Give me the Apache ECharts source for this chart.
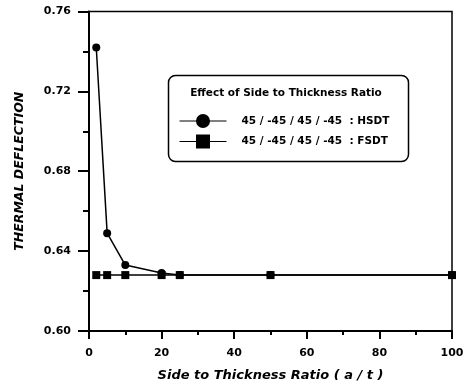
<!DOCTYPE html>
<html>
<head>
<meta charset="utf-8">
<script src="https://cdn.jsdelivr.net/npm/echarts@6/dist/echarts.min.js"></script>
<style>
html,body{margin:0;padding:0;background:#fff;}
#c{width:470px;height:386px;}
</style>
</head>
<body>
<div id="c"></div>
<script>
const xValues = [2, 5, 10, 20, 25, 50, 100];
const hsdt = [0.742, 0.649, 0.633, 0.629, 0.628, 0.628, 0.628];
const fsdt = [0.628, 0.628, 0.628, 0.628, 0.628, 0.628, 0.628];
const seriesNames = ['45 / -45 / 45 / -45  : HSDT', '45 / -45 / 45 / -45  : FSDT'];
const legendTitle = 'Effect of Side to Thickness Ratio';
const xTitle = 'Side to Thickness Ratio ( a / t )';
const yTitle = 'THERMAL DEFLECTION';

const FONT = '"DejaVu Sans", sans-serif';
const chart = echarts.init(document.getElementById('c'), null, {renderer: 'canvas'});

const pairs = (ys) => xValues.map((x, i) => [x, ys[i]]);

chart.setOption({
  animation: false,
  backgroundColor: '#fff',
  grid: {
    left: 89, right: 18, top: 11.5, bottom: 55,
    outerBoundsMode: 'none', containLabel: false,
    show: true, borderColor: '#000', borderWidth: 1.5, backgroundColor: 'transparent'
  },
  xAxis: {
    type: 'value', min: 0, max: 100, interval: 20,
    name: xTitle, nameLocation: 'middle', nameGap: 38,
    nameTextStyle: {fontFamily: FONT, fontSize: 13, fontWeight: 'bold', fontStyle: 'italic', color: '#000'},
    axisLine: {show: true, lineStyle: {color: '#000', width: 2}},
    axisTick: {show: true, inside: false, length: 8, lineStyle: {color: '#000', width: 2}},
    minorTick: {show: true, splitNumber: 2, length: 4, lineStyle: {color: '#000', width: 2}},
    splitLine: {show: false},
    axisLabel: {margin: 17, fontFamily: FONT, fontSize: 11, fontWeight: 'bold', color: '#000'}
  },
  yAxis: {
    type: 'value', min: 0.60, max: 0.76, interval: 0.04,
    name: yTitle, nameLocation: 'middle', nameGap: 63, nameRotate: 90,
    nameTextStyle: {fontFamily: FONT, fontSize: 12.5, fontWeight: 'bold', fontStyle: 'italic', color: '#000'},
    axisLine: {show: true, lineStyle: {color: '#000', width: 2}},
    axisTick: {show: true, inside: false, length: 11, lineStyle: {color: '#000', width: 2}},
    minorTick: {show: true, splitNumber: 2, length: 6, lineStyle: {color: '#000', width: 2}},
    splitLine: {show: false},
    axisLabel: {margin: 18, fontFamily: FONT, fontSize: 11, fontWeight: 'bold', color: '#000',
      formatter: (v) => v.toFixed(2)}
  },
  legend: {
    orient: 'vertical', left: 179, top: 114, padding: 0,
    itemWidth: 47, itemHeight: 17.5, itemGap: 6.5,
    lineStyle: {width: 1},
    textStyle: {fontFamily: FONT, fontSize: 10.5, fontWeight: 'bold', color: '#000', padding: [0, 0, 0, 10]},
    data: seriesNames
  },
  graphic: [
    {type: 'rect', left: 166, top: 73, z: 100, silent: true,
      shape: {width: 240, height: 86, r: 7},
      style: {fill: 'none', stroke: '#000', lineWidth: 1.5}},
    {type: 'text', x: 286, y: 93, z: 100, silent: true,
      style: {text: legendTitle, align: 'center', verticalAlign: 'middle',
        font: 'bold 10.5px ' + FONT, fill: '#000'}}
  ],
  series: [
    {name: seriesNames[0], type: 'line', data: pairs(hsdt),
      symbol: 'circle', symbolSize: 8, z: 3,
      lineStyle: {color: '#000', width: 1.5}, itemStyle: {color: '#000'}},
    {name: seriesNames[1], type: 'line', data: pairs(fsdt),
      symbol: 'rect', symbolSize: 8, z: 2,
      lineStyle: {color: '#000', width: 1.5}, itemStyle: {color: '#000'}}
  ]
});
</script>
</body>
</html>
